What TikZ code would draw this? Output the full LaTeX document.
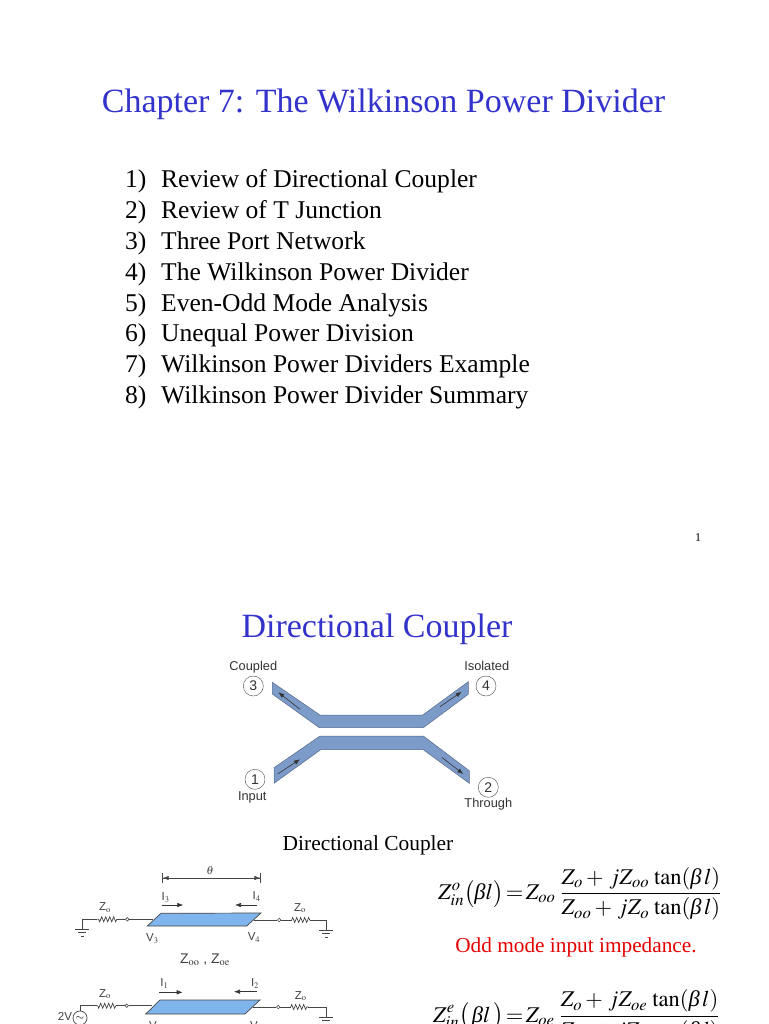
\documentclass[tikz,border=0pt]{standalone}
\usepackage{amsmath}
\usepackage{mathptmx}
\usepackage[no-math]{fontspec}
\setmainfont{Liberation Serif}
\setsansfont{Liberation Sans}
\usepackage{tikz}
\usetikzlibrary{decorations.pathmorphing}
\usetikzlibrary{arrows.meta}
\definecolor{titleblue}{RGB}{51,51,204}
\definecolor{stripblue}{RGB}{125,155,200}
\definecolor{lineblue}{RGB}{128,180,236}
\definecolor{wiregray}{RGB}{70,70,70}
\newcommand{\itbeta}{\mbox{\itshape β}}
\tikzset{
  titletext/.style={text=titleblue, font=\fontsize{34}{34}\selectfont, inner sep=0pt},
  itemtext/.style={anchor=base west, font=\fontsize{25.55}{25.55}\selectfont, inner sep=0pt},
  strip/.style={fill=stripblue, draw=stripblue!70!black, line width=0.5pt},
  flow/.style={-{Latex[length=6pt, width=4.5pt]}, line width=0.6pt, draw=black!80},
  portnum/.style={circle, draw=black!70, minimum size=20pt, inner sep=0pt, text=black!80, font=\sffamily\fontsize{14}{14}\selectfont},
  portname/.style={inner sep=0pt, text=black!80, font=\sffamily\fontsize{12.8}{12.8}\selectfont},
  wire/.style={draw=wiregray, line width=0.7pt},
  resist/.style={wire, decorate, decoration={zigzag, amplitude=2.5pt, segment length=4pt}},
  term/.style={circle, draw=wiregray, fill=white, minimum size=3.5pt, inner sep=0pt, line width=0.6pt},
  line/.style={fill=lineblue, draw=wiregray, line width=0.7pt},
  small/.style={inner sep=0pt, text=black!75, font=\sffamily\fontsize{11.5}{11.5}\selectfont},
  eqn/.style={anchor=west, inner sep=0pt, font=\fontsize{22.5}{22.5}\selectfont},
}
\begin{document}
\begin{tikzpicture}[x=1pt, y=-1pt]
\useasboundingbox (0, 0) rectangle (768, 1024);
\clip (0, 0) rectangle (768, 1024);
\fill[white] (0, 0) rectangle (768, 1024);

\node[titletext] (title) at (383.5, 104) {Chapter 7: The Wilkinson Power Divider};
\foreach \num/\ypos/\entry in {1/188/Review of Directional Coupler, 2/218.5/Review of T Junction,
  3/249/Three Port Network, 4/280/The Wilkinson Power Divider, 5/311/Even-Odd Mode Analysis,
  6/341.5/Unequal Power Division, 7/372/Wilkinson Power Dividers Example, 8/403/Wilkinson Power Divider Summary}
{
  \node[itemtext] (num\num) at (125, \ypos) {\num)};
  \node[itemtext] (item\num) at (161, \ypos) {\entry};
}
\node[inner sep=0pt, font=\fontsize{12}{12}\selectfont] (page) at (698, 538) {1};

\node[titletext] (head) at (377, 629) {Directional Coupler};

% coupler
\draw[strip] (272.3, 682.3) -- (320, 715) -- (422.7, 715) -- (468.3, 681.7) -- (468.3, 694.3)
  -- (423.3, 727.7) -- (319.3, 727.7) -- (272.3, 694) -- cycle;
\draw[strip] (274, 767.7) -- (320, 736) -- (423.3, 736) -- (469.3, 770.7) -- (469.3, 783.3)
  -- (423.3, 749.7) -- (320.7, 749.7) -- (274, 783.3) -- cycle;
\coordinate (a3) at (300, 709.3);
\coordinate (b3) at (278.3, 692.3);
\coordinate (a4) at (440, 706.7);
\coordinate (b4) at (461.7, 691.7);
\coordinate (a1) at (277.7, 774);
\coordinate (b1) at (300, 759.3);
\coordinate (a2) at (441.7, 757.3);
\coordinate (b2) at (463.3, 774);
\foreach \n in {1, 2, 3, 4}
  \draw[flow] (a\n) -- (b\n);
\node[portnum] (port3) at (253.3, 686) {3};
\node[portnum] (port4) at (486, 686) {4};
\node[portnum] (port1) at (255, 779.3) {1};
\node[portnum] (port2) at (488.3, 787.3) {2};
\node[portname] (coupled) at (253.3, 666.7) {Coupled};
\node[portname] (isolated) at (486.7, 666) {Isolated};
\node[portname] (input) at (252.3, 797.3) {Input};
\node[portname] (through) at (488.3, 804) {Through};
\node[inner sep=0pt, font=\fontsize{21.4}{21.4}\selectfont] (caption) at (368, 845) {Directional Coupler};

% upper circuit
\coordinate (thl) at (162, 878);
\coordinate (thr) at (261, 878);
\draw[wire, {Bar[width=10pt]Latex[length=6pt, width=4.5pt]}-{Latex[length=6pt, width=4.5pt]Bar[width=10pt]}] (thl) -- (thr);
\node[small] (theta) at (210, 870.7) {$\theta$};
\draw[line] (161, 913.3) -- (261, 913) -- (246.7, 926) -- (147.3, 926) -- cycle;
\coordinate (la) at (153.3, 919.3);
\coordinate (lb) at (97.3, 919.3);
\coordinate (lc) at (116.7, 919.3);
\coordinate (ld) at (82.3, 919.3);
\coordinate (le) at (82.3, 929);
\node[term] (lt) at (127.3, 919.3) {};
\draw[wire] (la) -- (lt) -- (lc);
\draw[resist] (lc) -- (lb);
\draw[wire] (lb) -- (ld) -- (le);
\coordinate (ra) at (254, 920);
\coordinate (rb) at (291.7, 920);
\coordinate (rc) at (310, 920);
\coordinate (rd) at (326, 920);
\coordinate (re) at (326, 930);
\node[term] (rt) at (279.3, 920) {};
\draw[wire] (ra) -- (rt) -- (rb);
\draw[resist] (rb) -- (rc);
\draw[wire] (rc) -- (rd) -- (re);
\foreach \g in {le, re}
{
  \draw[wire] ([xshift=-7pt]\g) -- ([xshift=7pt]\g);
  \draw[wire] ([xshift=-4pt, yshift=-3.5pt]\g) -- ([xshift=4pt, yshift=-3.5pt]\g);
  \draw[wire] ([xshift=-1.5pt, yshift=-7pt]\g) -- ([xshift=1.5pt, yshift=-7pt]\g);
}
\coordinate (i3a) at (161.7, 905);
\coordinate (i3b) at (183.3, 905);
\coordinate (i4a) at (256.7, 905);
\coordinate (i4b) at (235, 905);
\draw[flow] (i3a) -- (i3b);
\draw[flow] (i4a) -- (i4b);
\node[small] (i3) at (165.7, 897.7) {I$_3$};
\node[small] (i4) at (256.7, 896.7) {I$_4$};
\node[small] (z1) at (105, 907.7) {Z$_{\mathrm{o}}$};
\node[small] (z2) at (300, 908) {Z$_{\mathrm{o}}$};
\node[small] (v3) at (152.3, 938.3) {V$_3$};
\node[small] (v4) at (254, 937.3) {V$_4$};
\node[inner sep=0pt, text=black!75, font=\sffamily\fontsize{14}{14}\selectfont] (zz) at (205, 960) {Z$_{\mathrm{oo}}$ , Z$_{\mathrm{oe}}$};

% lower circuit
\draw[line] (160, 1000) -- (260, 1000) -- (245, 1014) -- (145.7, 1014) -- cycle;
\node[circle, draw=wiregray, minimum size=14pt, inner sep=0pt, line width=0.7pt, font=\fontsize{11}{11}\selectfont] (src) at (80, 1018) {$\sim$};
\coordinate (sa) at (151.7, 1005.7);
\coordinate (sb) at (115.7, 1005.7);
\coordinate (sc) at (97.3, 1005.7);
\coordinate (sd) at (80, 1005.7);
\node[term] (st) at (126.7, 1005.7) {};
\draw[wire] (sa) -- (st) -- (sb);
\draw[resist] (sb) -- (sc);
\draw[wire] (sc) -- (sd) -- (src);
\coordinate (ta) at (253.3, 1007);
\coordinate (tb) at (290.7, 1007);
\coordinate (tc) at (308.3, 1007);
\coordinate (td) at (326, 1007);
\coordinate (te) at (326, 1017);
\node[term] (tt) at (278.3, 1007) {};
\draw[wire] (ta) -- (tt) -- (tb);
\draw[resist] (tb) -- (tc);
\draw[wire] (tc) -- (td) -- (te);
\draw[wire] ([xshift=-7pt]te) -- ([xshift=7pt]te);
\draw[wire] ([xshift=-4pt, yshift=-3.5pt]te) -- ([xshift=4pt, yshift=-3.5pt]te);
\draw[wire] ([xshift=-1.5pt, yshift=-7pt]te) -- ([xshift=1.5pt, yshift=-7pt]te);
\coordinate (i1a) at (159.3, 992.3);
\coordinate (i1b) at (182.7, 992.3);
\coordinate (i2a) at (256.7, 991.7);
\coordinate (i2b) at (234, 991.7);
\draw[flow] (i1a) -- (i1b);
\draw[flow] (i2a) -- (i2b);
\node[small] (i1) at (164.3, 983.3) {I$_1$};
\node[small] (i2) at (255, 983.3) {I$_2$};
\node[small] (z3) at (105, 994) {Z$_{\mathrm{o}}$};
\node[small] (z4) at (300.7, 996) {Z$_{\mathrm{o}}$};
\node[small] (twov) at (65, 1016.7) {2V};
\node[small] (v1) at (153, 1026) {V};
\node[small] (v2) at (254, 1026) {V};

% equations
\node[eqn] (eqodd) at (438, 894) {$\displaystyle Z_{in}^{o}\bigl(\itbeta l\bigr)\!=\!Z_{oo}\;\frac{Z_{o}+\,jZ_{oo}\,\tan(\itbeta\, l)}{Z_{oo}+\,jZ_{o}\,\tan(\itbeta\, l)}$};
\node[inner sep=0pt, text=red!90!black, font=\fontsize{21.3}{21.3}\selectfont] (oddtext) at (576, 947) {Odd mode input impedance.};
\node[eqn] (eqeven) at (433, 1016.5) {$\displaystyle Z_{in}^{e}\bigl(\,\itbeta l\,\bigr)\!=\!Z_{oe}\;\frac{Z_{o}+\,jZ_{oe}\,\tan(\itbeta\, l)}{Z_{oe}+\,jZ_{o}\,\tan(\itbeta\, l)}$};
\end{tikzpicture}
\end{document}
